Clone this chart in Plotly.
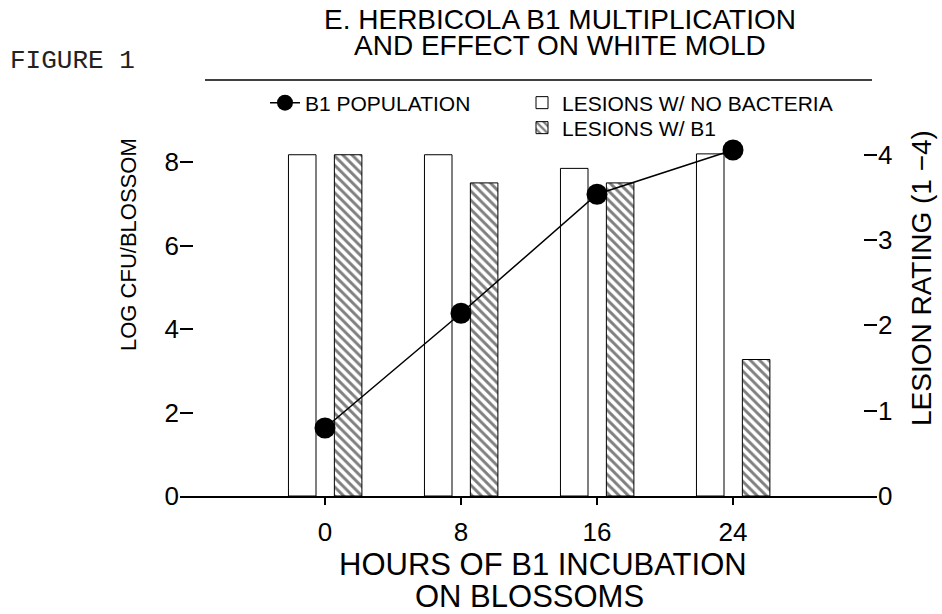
import plotly.graph_objects as go

# ---- data ----
hours = [0, 8, 16, 24]
b1_population = [1.63, 4.38, 7.23, 8.29]          # log CFU / blossom
lesions_no_bacteria = [4.0, 4.0, 3.84, 4.01]       # lesion rating (1-4)
lesions_with_b1 = [4.0, 3.67, 3.67, 1.6]           # lesion rating (1-4)
x_tick_labels = ["0", "8", "16", "24"]
left_ticks = [0, 2, 4, 6, 8]
right_ticks = [0, 1, 2, 3, 4]

FONT = "Liberation Sans, Arial, sans-serif"

fig = go.Figure()

fig.add_trace(go.Bar(
    x=hours, y=lesions_no_bacteria, name="LESIONS W/ NO BACTERIA",
    offset=-2.15, width=1.62,
    marker=dict(color="white", line=dict(color="black", width=1)),
    yaxis="y", legend="legend2",
))
fig.add_trace(go.Bar(
    x=hours, y=lesions_with_b1, name="LESIONS W/ B1",
    offset=0.55, width=1.62,
    marker=dict(color="white", line=dict(color="black", width=1),
                pattern=dict(shape="\\", size=6.5, solidity=0.45,
                             fgcolor="black", bgcolor="white")),
    yaxis="y", legend="legend3",
))
fig.add_trace(go.Scatter(
    x=hours, y=b1_population, name="B1 POPULATION",
    mode="lines+markers",
    line=dict(color="black", width=1.5),
    marker=dict(color="black", size=21),
    yaxis="y2", legend="legend",
))

PX_L, PX_R, PX_T, PX_B = 180, 877, 130, 496
def px_x(p):
    return (p - PX_L) / (PX_R - PX_L)
def px_y(p):
    return (PX_B - p) / (PX_B - PX_T)

leg_common = dict(xanchor="left", yanchor="middle", bgcolor="rgba(0,0,0,0)",
                  font=dict(size=21), borderwidth=0)

fig.update_layout(
    width=942, height=614,
    margin=dict(l=PX_L, r=942 - PX_R, t=PX_T, b=614 - PX_B, pad=0),
    paper_bgcolor="white", plot_bgcolor="white",
    font=dict(family=FONT, color="black"),
    barmode="overlay",
    xaxis=dict(range=[-8.53, 32.47], tickvals=hours, ticktext=x_tick_labels,
               showline=True, linecolor="black", linewidth=1.5,
               ticks="outside", ticklen=7, tickcolor="black", tickwidth=1.5,
               ticklabelstandoff=5,
               showgrid=False, zeroline=False, tickfont=dict(size=26)),
    yaxis=dict(side="right", range=[0, 4.29], tickvals=right_ticks,
               ticks="inside", ticklen=13, tickcolor="black", tickwidth=1.5,
               showline=False, showgrid=False, zeroline=False,
               tickfont=dict(size=26)),
    yaxis2=dict(side="left", overlaying="y", range=[0, 8.77], tickvals=left_ticks,
                ticks="inside", ticklen=13, tickcolor="black", tickwidth=1.5,
                showline=False, showgrid=False, zeroline=False,
                tickfont=dict(size=26)),
    legend=dict(x=px_x(265), y=px_y(103), **leg_common),
    legend2=dict(x=px_x(522), y=px_y(103), **leg_common),
    legend3=dict(x=px_x(522), y=px_y(128), **leg_common),
    showlegend=True,
)

fig.add_shape(type="line", xref="paper", yref="paper",
              x0=px_x(205), x1=px_x(872), y0=px_y(80), y1=px_y(80),
              line=dict(color="black", width=1.5))

annos = [
    dict(text="E. HERBICOLA B1 MULTIPLICATION", x=px_x(560), y=px_y(19.5), size=28),
    dict(text="AND EFFECT ON WHITE MOLD", x=px_x(560), y=px_y(45.5), size=28),
    dict(text="HOURS OF B1 INCUBATION", x=px_x(543), y=px_y(564.5), size=31),
    dict(text="ON BLOSSOMS", x=px_x(529), y=px_y(596), size=31),
]
for a in annos:
    fig.add_annotation(text=a["text"], x=a["x"], y=a["y"], xref="paper", yref="paper",
                       xanchor="center", yanchor="middle", showarrow=False,
                       font=dict(size=a["size"], family=FONT, color="black"))

fig.add_annotation(text="FIGURE 1", x=px_x(8), y=px_y(61), xref="paper", yref="paper",
                   xanchor="left", yanchor="middle", showarrow=False,
                   font=dict(size=26, family="Liberation Mono, Courier New, monospace",
                             color="#222"))
fig.add_annotation(text="LOG CFU/BLOSSOM", x=px_x(128), y=px_y(245), xref="paper",
                   yref="paper", xanchor="center", yanchor="middle", textangle=-90,
                   showarrow=False, font=dict(size=22, family=FONT, color="black"))
fig.add_annotation(text="LESION RATING (1 \u22124)", x=px_x(921), y=px_y(278),
                   xref="paper", yref="paper", xanchor="center", yanchor="middle",
                   textangle=-90, showarrow=False,
                   font=dict(size=28, family=FONT, color="black"))

fig.write_html("out.html", config={"displayModeBar": False},
               post_script="document.body.style.margin='0';")
